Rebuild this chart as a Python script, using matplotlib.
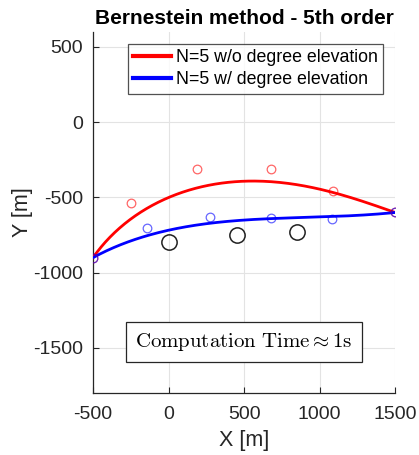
import numpy as np
import matplotlib
matplotlib.use("Agg")
import matplotlib.pyplot as plt
from math import comb

# Control points of the 5th order Bernstein curves
start = (-500, -900)
goal = (1500, -600)
red_ctrl_x = [-250, 190, 680, 1090]
red_ctrl_y = [-540, -310, -310, -455]
blue_ctrl_x = [-145, 275, 680, 1085]
blue_ctrl_y = [-705, -628, -635, -642]

# Obstacles
obs_x = [0, 450, 850]
obs_y = [-795, -748, -728]

x_ticks = [-500, 0, 500, 1000, 1500]
y_ticks = [-1500, -1000, -500, 0, 500]


def bernstein_curve(px, py, n_pts=200):
    n = len(px) - 1
    t = np.linspace(0, 1, n_pts)
    bx = np.zeros_like(t)
    by = np.zeros_like(t)
    for k in range(n + 1):
        b = comb(n, k) * t**k * (1 - t)**(n - k)
        bx += b * px[k]
        by += b * py[k]
    return bx, by


red_px = [start[0]] + red_ctrl_x + [goal[0]]
red_py = [start[1]] + red_ctrl_y + [goal[1]]
blue_px = [start[0]] + blue_ctrl_x + [goal[0]]
blue_py = [start[1]] + blue_ctrl_y + [goal[1]]

plt.rcParams['font.family'] = ['Liberation Sans', 'DejaVu Sans']
plt.rcParams['mathtext.fontset'] = 'cm'
plt.rcParams['axes.unicode_minus'] = False

fig = plt.figure(figsize=(4.19, 4.55), dpi=100)
ax = fig.add_axes([0.222, 0.136, 0.721, 0.794])

rx, ry = bernstein_curve(red_px, red_py)
bx, by = bernstein_curve(blue_px, blue_py)
ax.plot(rx, ry, color='#ff0000', lw=2, label='N=5 w/o degree elevation', zorder=3)
ax.plot(bx, by, color='#0000ff', lw=2, label='N=5 w/ degree elevation', zorder=3)

ax.plot(red_px, red_py, 'o', mfc='none', mec='#ff0000', mew=0.9, ms=6.2,
        alpha=0.6, zorder=4)
ax.plot(blue_px, blue_py, 'o', mfc='none', mec='#0000ff', mew=0.9, ms=6.2,
        alpha=0.6, zorder=4)
ax.plot(obs_x, obs_y, 'o', mfc='none', mec='#202020', mew=1.1, ms=11, zorder=2)

ax.set_xlim(-500, 1500)
ax.set_ylim(-1800, 600)
ax.set_xticks(x_ticks)
ax.set_yticks(y_ticks)
ax.grid(True, color='#e3e3e3', lw=0.8)
ax.set_axisbelow(True)
for s in ['top', 'right']:
    ax.spines[s].set_visible(False)
for s in ['left', 'bottom']:
    ax.spines[s].set_color('#262626')
    ax.spines[s].set_linewidth(0.9)
ax.tick_params(direction='in', length=4, labelsize=14, colors='#262626',
               labelcolor='#262626', width=0.8, pad=7)
ax.tick_params(axis='x', pad=9)

ax.set_xlabel('X [m]', fontsize=15.5, color='#262626', labelpad=5)
ax.set_ylabel('Y [m]', fontsize=15.5, color='#262626', labelpad=0)
ax.set_title('Bernestein method - 5th order', fontsize=15, fontweight='bold',
             pad=6)

leg = ax.legend(loc='upper left', bbox_to_anchor=(0.115, 0.967), fontsize=12.8,
                frameon=True, fancybox=False, edgecolor='#262626',
                borderpad=0.3, handlelength=2.15, handletextpad=0.25,
                labelspacing=0.3, borderaxespad=0.0)
leg.get_frame().set_linewidth(0.9)
for line in leg.get_lines():
    line.set_linewidth(3)

ax.text(500, -1460, r'$\mathrm{Computation\ Time} \approx 1\mathrm{s}$',
        fontsize=15, ha='center', va='center', zorder=5,
        bbox=dict(boxstyle='square,pad=0.45', fc='white', ec='#262626', lw=0.9))

fig.savefig('out.png', dpi=100)
